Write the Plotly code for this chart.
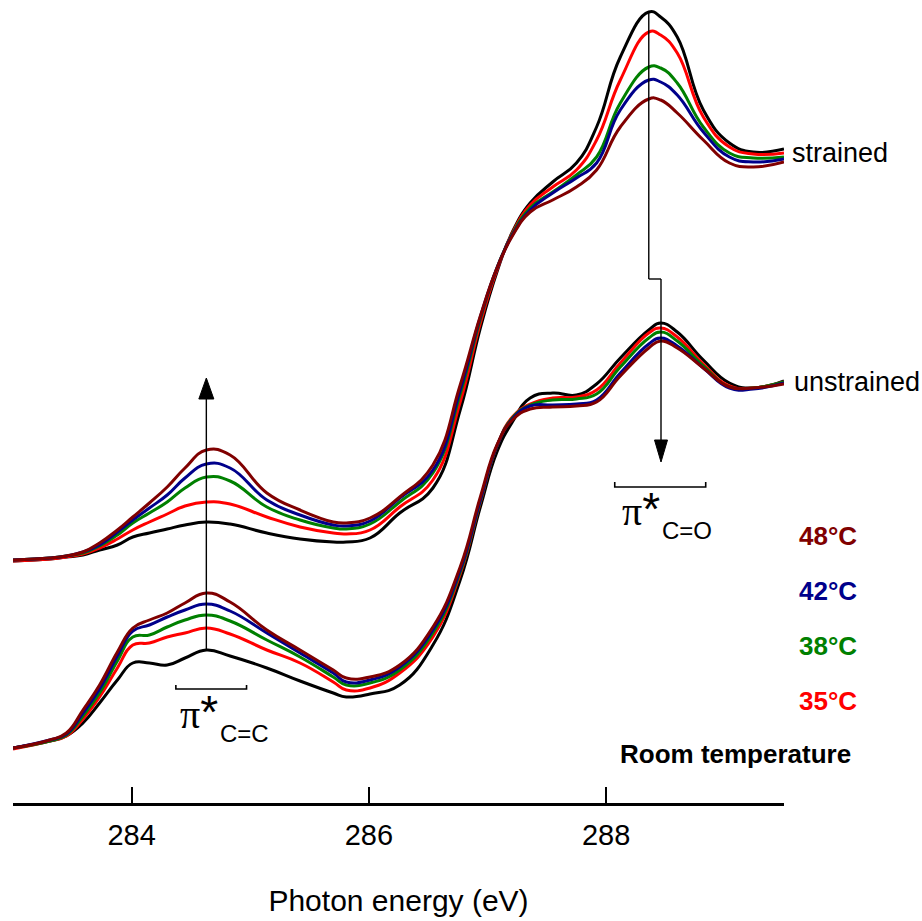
import plotly.graph_objects as go

# ---------------- data (photon energy in eV, intensity in arbitrary units) ----------------
energy_ev = [283.00, 283.31, 283.45, 283.59, 283.73, 283.88, 284.01, 284.15, 284.30, 284.45,
             284.63, 284.83, 285.14, 285.42, 285.70, 285.81, 286.01, 286.26, 286.54, 286.77,
             286.94, 287.08, 287.21, 287.36, 287.55, 287.75, 287.92, 288.12, 288.36, 288.46,
             288.60, 288.82, 289.04, 289.24, 289.50]

temperatures = ["Room temperature", "35°C", "38°C", "42°C", "48°C"]
colors = ["#000000", "#ff0000", "#008000", "#00008b", "#800000"]

unstrained_rt = [55, 62, 67, 80, 100, 123, 140, 140, 138, 145, 153, 147, 135, 122, 110, 106, 109, 118, 158, 223,
                 296, 351, 381, 405, 410, 408, 419, 445, 473, 480, 471, 443, 420, 415, 422]
unstrained_35 = [54, 62, 67, 84, 106, 135, 158, 160, 166, 170, 175, 169, 153, 140, 121, 113, 115, 130, 166, 229,
                 301, 357, 386, 399, 405, 406, 413, 440, 470, 475, 466, 439, 417, 415, 421]
unstrained_38 = [55, 62, 68, 87, 110, 142, 166, 168, 176, 183, 188, 182, 163, 146, 126, 118, 120, 133, 170, 231,
                 302, 357, 385, 398, 403, 404, 409, 436, 465, 471, 462, 437, 416, 415, 421]
unstrained_42 = [55, 63, 69, 90, 114, 147, 172, 178, 186, 193, 199, 192, 170, 150, 130, 121, 123, 136, 173, 233,
                 303, 357, 384, 397, 398, 399, 403, 430, 459, 465, 457, 435, 415, 414, 420]
unstrained_48 = [55, 63, 70, 93, 118, 151, 175, 183, 190, 200, 210, 201, 173, 153, 133, 125, 126, 138, 176, 236,
                 306, 358, 383, 394, 396, 397, 401, 427, 455, 462, 455, 435, 416, 415, 419]

strained_rt = [242, 244, 246, 248, 253, 258, 266, 270, 274, 278, 281, 279, 270, 264, 261, 261, 265, 290, 315, 393,
               475, 531, 571, 600, 621, 640, 676, 746, 791, 786, 766, 693, 660, 651, 654]
strained_35 = [242, 244, 246, 249, 255, 264, 273, 281, 289, 297, 301, 299, 286, 276, 270, 269, 273, 296, 323, 401,
               480, 533, 570, 598, 616, 633, 663, 723, 771, 768, 750, 686, 656, 649, 650]
strained_38 = [243, 245, 247, 250, 257, 268, 280, 290, 301, 315, 326, 322, 296, 283, 275, 274, 279, 301, 330, 409,
               484, 535, 569, 595, 611, 628, 646, 700, 736, 735, 720, 676, 650, 645, 646]
strained_42 = [243, 245, 247, 251, 258, 271, 283, 295, 308, 325, 339, 335, 303, 288, 278, 277, 282, 305, 333, 413,
               486, 535, 568, 593, 610, 625, 640, 693, 723, 721, 708, 671, 646, 641, 644]
strained_48 = [243, 245, 247, 251, 260, 273, 286, 300, 316, 335, 353, 348, 310, 293, 281, 280, 285, 306, 338, 418,
               487, 535, 567, 591, 603, 616, 633, 676, 704, 703, 690, 663, 640, 636, 641]

unstrained = [unstrained_rt, unstrained_35, unstrained_38, unstrained_42, unstrained_48]
strained = [strained_rt, strained_35, strained_38, strained_42, strained_48]

tick_values = [283.0, 284, 286, 288, 289.5]
tick_labels = ["", "284", "286", "288", ""]

# ---------------- layout constants ----------------
W, H = 922, 921
ML, MR, MT, MB = 13, 138, 0, 118
PW, PH = W - ML - MR, H - MT - MB
X_RANGE = [283.0, 289.5]
Y_RANGE = [0, 803]
FONT = "Liberation Sans, Arial, sans-serif"
SERIF = "Liberation Serif, Times New Roman, serif"


def px(xp):
    return (xp - ML) / PW


def py(yp):
    return (MT + PH - yp) / PH


fig = go.Figure()

for series in (unstrained, strained):
    for vals, col in zip(series, colors):
        fig.add_trace(go.Scatter(x=energy_ev, y=vals, mode="lines",
                                 line=dict(color=col, width=3, shape="spline", smoothing=1.3),
                                 showlegend=False, hoverinfo="skip"))

shapes = []
annotations = []

# up arrow at pi*(C=C)
cc_x = 284.63
shapes.append(dict(type="line", xref="x", yref="y", x0=cc_x, x1=cc_x, y0=153, y1=410,
                   line=dict(color="black", width=1.4)))
shapes.append(dict(type="path", xref="x", yref="y", xsizemode="pixel", ysizemode="pixel",
                   xanchor=cc_x, yanchor=425, path="M0,0 L-7.5,-21 L7.5,-21 Z",
                   fillcolor="black", line=dict(color="black", width=1)))
# down arrow at pi*(C=O)
co_x1, co_x2 = 288.36, 288.463
shapes.append(dict(type="line", xref="x", yref="y", x0=co_x1, x1=co_x1, y0=791, y1=524,
                   line=dict(color="black", width=1.4)))
shapes.append(dict(type="line", xref="x", yref="y", x0=co_x1, x1=co_x2, y0=524, y1=524,
                   line=dict(color="black", width=1.4)))
shapes.append(dict(type="line", xref="x", yref="y", x0=co_x2, x1=co_x2, y0=524, y1=355,
                   line=dict(color="black", width=1.4)))
shapes.append(dict(type="path", xref="x", yref="y", xsizemode="pixel", ysizemode="pixel",
                   xanchor=co_x2, yanchor=341, path="M0,0 L-6.5,22 L6.5,22 Z",
                   fillcolor="black", line=dict(color="black", width=1)))

# brackets
for (xa, xb, yb, yt) in [(284.373, 284.969, 114, 118), (288.073, 288.84, 316, 321)]:
    shapes.append(dict(type="path", xref="x", yref="y",
                       path=f"M{xa},{yt} L{xa},{yb} L{xb},{yb} L{xb},{yt}",
                       line=dict(color="black", width=1.6)))

# pi* labels
for (xl, yc, xs, ys, sub) in [(178, 712, 218, 733, "C=C"), (620, 509, 660, 530, "C=O")]:
    annotations.append(dict(xref="paper", yref="paper", x=px(xl), y=py(yc), xanchor="left", yanchor="middle",
                            showarrow=False,
                            text="π<span style='font-family:Liberation Sans;font-size:46px'>*</span>",
                            font=dict(family=SERIF, size=40, color="black")))
    annotations.append(dict(xref="paper", yref="paper", x=px(xs), y=py(ys), xanchor="left", yanchor="middle",
                            showarrow=False, text=sub, font=dict(family=FONT, size=24, color="black")))

# series labels
annotations.append(dict(xref="paper", yref="paper", x=px(790), y=py(153), xanchor="left", yanchor="middle",
                        showarrow=False, text="strained", font=dict(family=FONT, size=27, color="black")))
annotations.append(dict(xref="paper", yref="paper", x=px(792), y=py(382), xanchor="left", yanchor="middle",
                        showarrow=False, text="unstrained", font=dict(family=FONT, size=27, color="black")))

# temperature legend
legend_y = {"48°C": 536, "42°C": 591, "38°C": 646, "35°C": 701}
for name, col in zip(temperatures, colors):
    if name == "Room temperature":
        annotations.append(dict(xref="paper", yref="paper", x=px(853), y=py(754), xanchor="right",
                                yanchor="middle", showarrow=False, text=f"<b>{name}</b>",
                                font=dict(family=FONT, size=26, color=col)))
    else:
        annotations.append(dict(xref="paper", yref="paper", x=px(797), y=py(legend_y[name]), xanchor="left",
                                yanchor="middle", showarrow=False, text=f"<b>{name}</b>",
                                font=dict(family=FONT, size=26, color=col)))

fig.update_layout(
    width=W, height=H,
    margin=dict(l=ML, r=MR, t=MT, b=MB, autoexpand=False),
    paper_bgcolor="white", plot_bgcolor="white",
    shapes=shapes, annotations=annotations,
    font=dict(family=FONT, color="black"),
    xaxis=dict(range=X_RANGE, showgrid=False, zeroline=False, showline=True, linecolor="black",
               linewidth=2.6, ticks="inside", ticklen=16, tickwidth=2.4, tickcolor="black",
               tickmode="array", tickvals=tick_values, ticktext=tick_labels,
               tickfont=dict(family=FONT, size=29, color="black"), ticklabelstandoff=4,
               title=dict(text="Photon energy (eV)", font=dict(family=FONT, size=30, color="black"),
                          standoff=41),
               automargin=False),
    yaxis=dict(range=Y_RANGE, visible=False, showgrid=False, zeroline=False),
)

fig.write_html("out.html")
